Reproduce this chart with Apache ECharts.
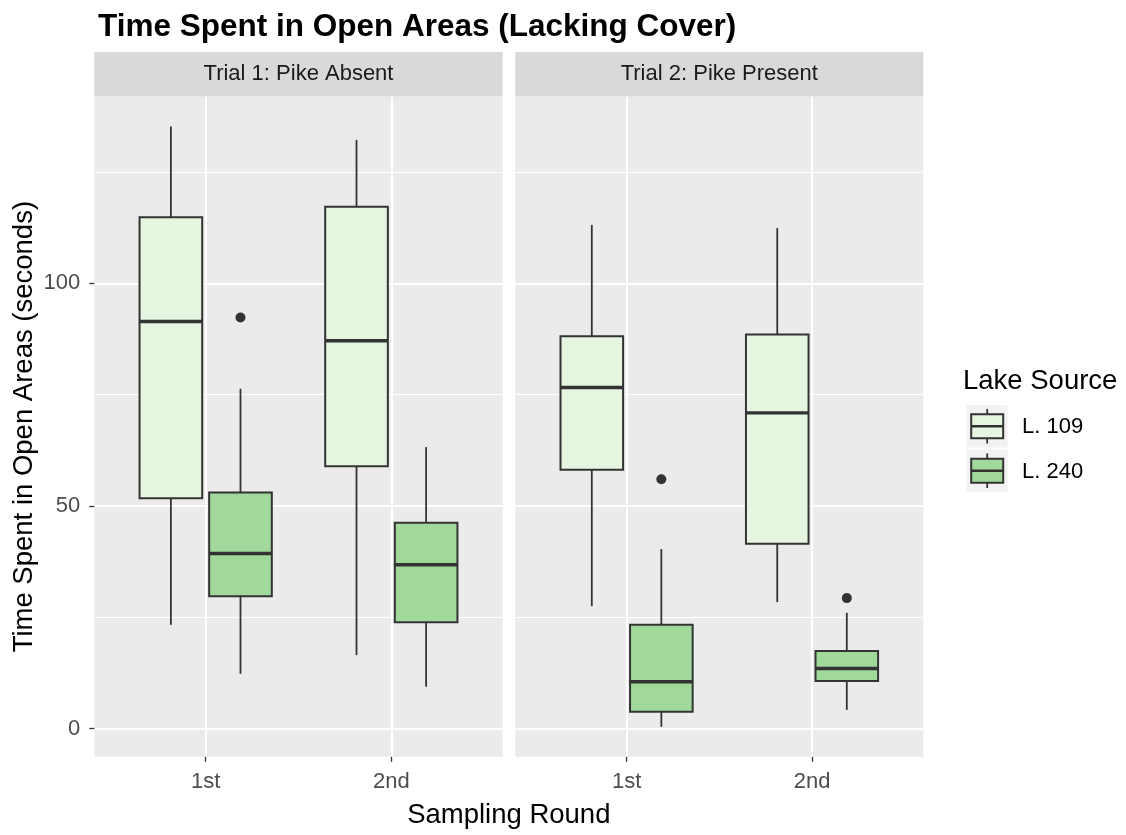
<!DOCTYPE html>
<html>
<head>
<meta charset="utf-8">
<script src="https://cdn.jsdelivr.net/npm/echarts@6/dist/echarts.min.js"></script>
<style>
  html, body { margin: 0; padding: 0; background: #ffffff; }
  #chart { width: 1126px; height: 835px; }
</style>
</head>
<body>
<div id="chart"></div>
<script>
// ---- data ----
const rounds = ['1st', '2nd'];
const trials = ['Trial 1: Pike Absent', 'Trial 2: Pike Present'];
const lakes = ['L. 109', 'L. 240'];

// five-number summaries per sampling round: [lower whisker, Q1, median, Q3, upper whisker]
const trial1L109 = [[23.3, 51.7, 91.4, 114.8, 135.2], [16.5, 58.9, 87.1, 117.2, 132.2]];
const trial1L240 = [[12.3, 29.7, 39.3, 53.0, 76.3], [9.4, 23.9, 36.8, 46.2, 63.2]];
const trial2L109 = [[27.5, 58.1, 76.6, 88.1, 113.1], [28.4, 41.5, 70.9, 88.5, 112.4]];
const trial2L240 = [[0.4, 3.8, 10.5, 23.3, 40.3], [4.2, 10.7, 13.5, 17.4, 26.0]];

// outlying fish: [sampling round number, seconds]
const trial1L109Out = [];
const trial1L240Out = [[1, 92.3]];
const trial2L109Out = [];
const trial2L240Out = [[1, 56.0], [2, 29.3]];

const yMajorTicks = [0, 50, 100];
const yMinorTicks = [25, 75, 125];
const xTicks = [1, 2];

// ---- styling ----
const lakeFill = ['#E5F5E0', '#A1D99B'];
const ink = '#333333';
const panelBg = '#EBEBEB';
const stripBg = '#D9D9D9';
const FONT = '"Liberation Sans", Arial, sans-serif';
const DODGE = 0.375;          // offset between the two lakes inside a round
const BOX_WIDTH = 0.3375;     // box width in round units
const Y_MIN = -6.34, Y_MAX = 141.94;
const X_MIN = 0.4, X_MAX = 2.6;

const panels = [
  { left: 94.3, width: 408.4, boxes: [trial1L109, trial1L240], out: [trial1L109Out, trial1L240Out] },
  { left: 515.3, width: 408.0, boxes: [trial2L109, trial2L240], out: [trial2L109Out, trial2L240Out] }
];
const PANEL_TOP = 96.5, PANEL_H = 660.3;
const STRIP_TOP = 52, STRIP_H = PANEL_TOP - 52;

function boxRenderer(offset, fill) {
  return function (params, api) {
    const x = api.value(0) + offset;
    const lo = api.coord([x, api.value(1)]);
    const q1 = api.coord([x, api.value(2)]);
    const md = api.coord([x, api.value(3)]);
    const q3 = api.coord([x, api.value(4)]);
    const hi = api.coord([x, api.value(5)]);
    const half = api.size([BOX_WIDTH, 0])[0] / 2;
    const cx = lo[0];
    return {
      type: 'group',
      children: [
        { type: 'line', shape: { x1: cx, y1: hi[1], x2: cx, y2: q3[1] }, style: { stroke: ink, lineWidth: 1.8 } },
        { type: 'line', shape: { x1: cx, y1: q1[1], x2: cx, y2: lo[1] }, style: { stroke: ink, lineWidth: 1.8 } },
        { type: 'rect', shape: { x: cx - half, y: q3[1], width: half * 2, height: q1[1] - q3[1] },
          style: { fill: fill, stroke: ink, lineWidth: 2 } },
        { type: 'line', shape: { x1: cx - half, y1: md[1], x2: cx + half, y2: md[1] }, style: { stroke: ink, lineWidth: 3.4 } }
      ]
    };
  };
}

const grids = [], xAxes = [], yAxes = [], series = [], graphics = [];

panels.forEach((p, pi) => {
  grids.push({ left: p.left, top: PANEL_TOP, width: p.width, height: PANEL_H,
    show: true, backgroundColor: panelBg, borderWidth: 0 });

  xAxes.push({
    type: 'value', gridIndex: pi, min: X_MIN, max: X_MAX, position: 'bottom',
    axisLine: { show: false, onZero: false },
    axisTick: { show: true, customValues: xTicks, length: 5, lineStyle: { color: ink, width: 1.3 } },
    axisLabel: { show: true, customValues: xTicks, margin: 14, fontSize: 22, color: '#4D4D4D', fontFamily: FONT,
      formatter: v => rounds[Math.round(v) - 1] },
    splitLine: { show: true, lineStyle: { color: '#FFFFFF', width: 2 } }
  });

  // major y grid + labels
  yAxes.push({
    type: 'value', gridIndex: pi, min: Y_MIN, max: Y_MAX, position: 'left',
    axisLine: { show: false, onZero: false },
    axisTick: { show: pi === 0, customValues: yMajorTicks, length: 5, lineStyle: { color: ink, width: 1.3 } },
    axisLabel: { show: pi === 0, customValues: yMajorTicks, margin: 14, fontSize: 22, color: '#4D4D4D', fontFamily: FONT },
    splitLine: { show: true, lineStyle: { color: '#FFFFFF', width: 2 } },
    z: 1
  });
  // minor y grid
  yAxes.push({
    type: 'value', gridIndex: pi, min: Y_MIN, max: Y_MAX, position: 'left',
    axisLine: { show: false, onZero: false },
    axisTick: { show: false, customValues: yMinorTicks },
    axisLabel: { show: false, customValues: yMinorTicks },
    splitLine: { show: true, lineStyle: { color: '#FFFFFF', width: 1 } },
    z: 0
  });

  lakes.forEach((lake, li) => {
    const offset = (li - 0.5) * DODGE;
    series.push({
      type: 'custom', name: lake, xAxisIndex: pi, yAxisIndex: pi * 2,
      renderItem: boxRenderer(offset, lakeFill[li]),
      encode: { x: 0, y: [1, 2, 3, 4, 5] },
      data: p.boxes[li].map((s, ri) => [xTicks[ri]].concat(s)),
      z: 3
    });
    if (p.out[li].length) {
      series.push({
        type: 'scatter', name: lake + ' outliers', xAxisIndex: pi, yAxisIndex: pi * 2,
        symbol: 'circle', symbolSize: 10,
        itemStyle: { color: ink, opacity: 1 },
        data: p.out[li].map(([r, v]) => [r + offset, v]),
        z: 4
      });
    }
  });

  // facet strip
  graphics.push({
    type: 'rect', shape: { x: p.left, y: STRIP_TOP, width: p.width, height: STRIP_H },
    style: { fill: stripBg }, silent: true
  });
  graphics.push({
    type: 'text', x: p.left + p.width / 2, y: STRIP_TOP + STRIP_H / 2,
    style: { text: trials[pi], fill: '#1A1A1A', fontSize: 22, fontFamily: FONT, align: 'center', verticalAlign: 'middle' },
    silent: true
  });
});

// axis titles
graphics.push({
  type: 'text', x: (94.3 + 923.3) / 2, y: 815,
  style: { text: 'Sampling Round', fill: '#000000', fontSize: 27.5, fontFamily: FONT, align: 'center', verticalAlign: 'middle' }
});
graphics.push({
  type: 'text', x: 24, y: PANEL_TOP + PANEL_H / 2, rotation: Math.PI / 2,
  style: { text: 'Time Spent in Open Areas (seconds)', fill: '#000000', fontSize: 27.5, fontFamily: FONT, align: 'center', verticalAlign: 'middle' }
});

// legend
const legendX = 966.7, keyW = 41, keyH = 42.5, keyTop = 405;
graphics.push({
  type: 'text', x: 963, y: 381,
  style: { text: 'Lake Source', fill: '#000000', fontSize: 27.5, fontFamily: FONT, align: 'left', verticalAlign: 'middle' }
});
lakes.forEach((lake, li) => {
  const top = keyTop + li * (keyH + 2);
  const cx = legendX + keyW / 2, cy = top + keyH / 2;
  graphics.push({
    type: 'group', children: [
      { type: 'rect', shape: { x: legendX, y: top, width: keyW, height: keyH }, style: { fill: '#F2F2F2' } },
      { type: 'line', shape: { x1: cx, y1: top + 4, x2: cx, y2: top + keyH - 4 }, style: { stroke: ink, lineWidth: 1.8 } },
      { type: 'rect', shape: { x: legendX + 4.5, y: cy - 12, width: keyW - 9, height: 24 }, style: { fill: lakeFill[li], stroke: ink, lineWidth: 2 } },
      { type: 'line', shape: { x1: legendX + 4.5, y1: cy, x2: legendX + keyW - 4.5, y2: cy }, style: { stroke: ink, lineWidth: 2.4 } }
    ]
  });
  graphics.push({
    type: 'text', x: 1022, y: cy + 1,
    style: { text: lake, fill: '#000000', fontSize: 22, fontFamily: FONT, align: 'left', verticalAlign: 'middle' }
  });
});

const chart = echarts.init(document.getElementById('chart'), null, { renderer: 'canvas' });
chart.setOption({
  animation: false,
  backgroundColor: '#FFFFFF',
  title: {
    text: 'Time Spent in Open Areas (Lacking Cover)',
    left: 93, top: 6,
    textStyle: { fontSize: 31.5, fontWeight: 'bold', color: '#000000', fontFamily: FONT }
  },
  grid: grids,
  xAxis: xAxes,
  yAxis: yAxes,
  series: series,
  graphic: { elements: graphics }
});
</script>
</body>
</html>
